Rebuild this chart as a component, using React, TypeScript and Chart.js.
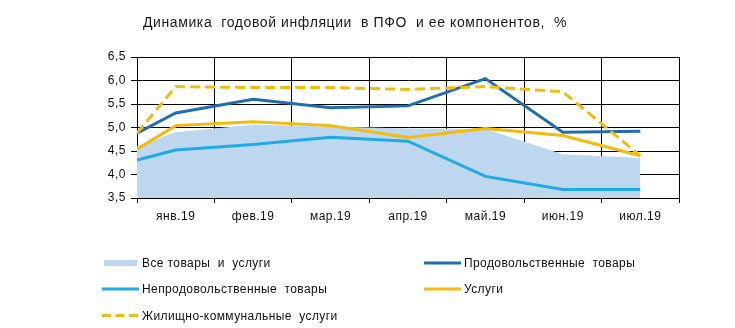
import React, { useEffect, useRef } from 'react';
import { Chart, registerables } from 'chart.js';

Chart.register(...registerables);

const titleText = 'Динамика  годовой инфляции  в ПФО  и ее компонентов,  %';
const months = ['янв.19', 'фев.19', 'мар.19', 'апр.19', 'май.19', 'июн.19', 'июл.19'];
// first point sits on the left edge of the plot (previous period), then month centres
const xPositions = [-0.5, 0, 1, 2, 3, 4, 5, 6];
const allGoods = [4.6, 4.9, 5.06, 5.02, 4.98, 4.97, 4.43, 4.35];
const food = [4.88, 5.31, 5.6, 5.42, 5.46, 6.04, 4.9, 4.92];
const nonFood = [4.31, 4.52, 4.64, 4.79, 4.71, 3.96, 3.68, 3.68];
const services = [4.54, 5.04, 5.12, 5.04, 4.79, 4.98, 4.83, 4.4];
const housing = [4.88, 5.87, 5.85, 5.85, 5.81, 5.87, 5.76, 4.4];
const yTicks = [3.5, 4.0, 4.5, 5.0, 5.5, 6.0, 6.5];

const seriesNames = [
  'Все товары  и  услуги',
  'Продовольственные  товары',
  'Непродовольственные  товары',
  'Услуги',
  'Жилищно-коммунальные  услуги',
];

const FONT = '"Liberation Sans", Arial, sans-serif';

const pts = (vals: number[]) => vals.map((v, i) => ({ x: xPositions[i], y: v }));

const xTickValues: number[] = [];
for (let i = -1; i < months.length; i++) {
  if (i >= 0) xTickValues.push(i);
  xTickValues.push(i + 0.5);
}

const spacingPlugin = {
  id: 'spacing',
  beforeDraw(chart: any) {
    chart.ctx.letterSpacing = '0.5px';
  },
};

const legendPlugin = {
  id: 'customLegend',
  afterDraw(chart: any) {
    const ctx = chart.ctx;
    const ds = chart.data.datasets;
    const colX = [102, 424];
    const rowY = [263, 289, 315.5];
    ctx.save();
    ctx.letterSpacing = '0.4px';
    ctx.font = '12px ' + FONT;
    ctx.textBaseline = 'middle';
    ctx.textAlign = 'left';
    ds.forEach((d: any, i: number) => {
      const x = colX[i % 2];
      const y = rowY[Math.floor(i / 2)];
      if (d.fill) {
        ctx.fillStyle = d.backgroundColor;
        ctx.fillRect(x + 2, y - 3, 33, 6);
      } else {
        ctx.strokeStyle = d.borderColor;
        ctx.lineWidth = 3;
        ctx.setLineDash(d.borderDash && d.borderDash.length ? [9, 4.5] : []);
        ctx.beginPath();
        ctx.moveTo(x, y);
        ctx.lineTo(x + 37, y);
        ctx.stroke();
        ctx.setLineDash([]);
      }
      ctx.fillStyle = '#111';
      ctx.fillText(d.label, x + 40, y + 1);
    });
    ctx.restore();
  },
};

const titlePlugin = {
  id: 'customTitle',
  afterDraw(chart: any) {
    const ctx = chart.ctx;
    ctx.save();
    ctx.letterSpacing = '0.6px';
    ctx.font = '14px ' + FONT;
    ctx.fillStyle = '#1a1a1a';
    ctx.textAlign = 'center';
    ctx.textBaseline = 'middle';
    ctx.fillText(titleText, 355, 23);
    ctx.restore();
  },
};

export default function App() {
  const ref = useRef<HTMLCanvasElement | null>(null);
  useEffect(() => {
    if (!ref.current) return;
    const chart = new Chart(ref.current, {
      type: 'line',
      data: {
        datasets: [
          {
            label: seriesNames[0],
            data: pts(allGoods),
            fill: 'start',
            backgroundColor: '#BDD7EE',
            borderColor: 'rgba(0,0,0,0)',
            borderWidth: 0,
            pointRadius: 0,
            tension: 0,
            order: 10,
          },
          {
            label: seriesNames[1],
            data: pts(food),
            fill: false,
            borderColor: '#1F6EB2',
            borderWidth: 3,
            pointRadius: 0,
            tension: 0,
            order: 2,
          },
          {
            label: seriesNames[2],
            data: pts(nonFood),
            fill: false,
            borderColor: '#1EABE6',
            borderWidth: 3,
            pointRadius: 0,
            tension: 0,
            order: 3,
          },
          {
            label: seriesNames[3],
            data: pts(services),
            fill: false,
            borderColor: '#F5BB0A',
            borderWidth: 3,
            pointRadius: 0,
            tension: 0,
            order: 4,
          },
          {
            label: seriesNames[4],
            data: pts(housing),
            fill: false,
            borderColor: '#F5BB0A',
            borderWidth: 3,
            borderDash: [10, 5],
            pointRadius: 0,
            tension: 0,
            order: 1,
          },
        ],
      },
      options: {
        responsive: false,
        animation: false,
        layout: { padding: { top: 57, right: 56, left: 0, bottom: 0 } },
        plugins: {
          legend: { display: false },
          title: { display: false },
          tooltip: { enabled: false },
        },
        scales: {
          x: {
            type: 'linear',
            min: -0.5,
            max: months.length - 0.5,
            afterBuildTicks: (s: any) => {
              s.ticks = xTickValues.map((v) => ({ value: v }));
            },
            afterFit: (s: any) => {
              s.height = 130;
            },
            grid: {
              color: (c: any) =>
                c.tick && Number.isInteger(c.tick.value) ? 'rgba(0,0,0,0)' : '#000',
              lineWidth: 1,
              tickLength: 5,
              drawTicks: true,
            },
            border: { display: true, color: '#000', width: 1 },
            ticks: {
              autoSkip: false,
              maxRotation: 0,
              minRotation: 0,
              padding: 6,
              color: '#111',
              font: { family: FONT, size: 12 },
              callback: (v: any) => {
                const n = Number(v);
                return Number.isInteger(n) && n >= 0 && n < months.length ? months[n] : '';
              },
            },
          },
          y: {
            type: 'linear',
            min: 3.5,
            max: 6.5,
            afterBuildTicks: (s: any) => {
              s.ticks = yTicks.map((v) => ({ value: v }));
            },
            afterFit: (s: any) => {
              s.width = 137;
            },
            grid: { color: '#000', lineWidth: 1, tickLength: 6 },
            border: { display: true, color: '#000', width: 1 },
            ticks: {
              padding: 5,
              color: '#111',
              font: { family: FONT, size: 12 },
              callback: (v: any) => Number(v).toFixed(1).replace('.', ','),
            },
          },
        },
      },
      plugins: [spacingPlugin, titlePlugin, legendPlugin],
    } as any);
    return () => chart.destroy();
  }, []);
  return (
    <div style={{ position: 'absolute', left: 0, top: 0, width: 735, height: 328, background: '#fff' }}>
      <canvas ref={ref} width={735} height={328} style={{ display: 'block' }} />
    </div>
  );
}
